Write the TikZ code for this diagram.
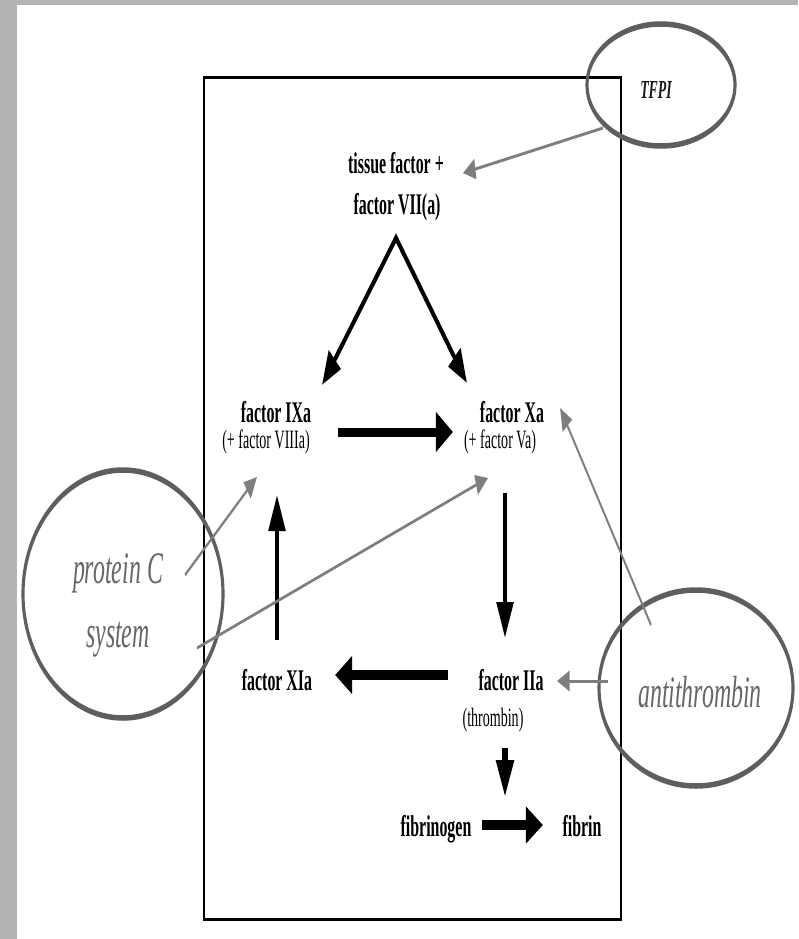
\documentclass[tikz,border=0pt]{standalone}
\usepackage{graphicx}
\usepackage{fontspec}
\setmainfont{Liberation Serif}
\usetikzlibrary{arrows.meta}
\definecolor{band}{HTML}{B4B4B4}
\definecolor{ringc}{HTML}{5E5E5E}
\definecolor{inhib}{HTML}{7E7E7E}
\definecolor{ringtext}{HTML}{666666}
\newcommand{\cnd}[1]{\scalebox{0.93}[1]{#1}}
\begin{document}
\begin{tikzpicture}[x=1pt,y=-1pt]
\useasboundingbox (0,0) rectangle (798,939);
\fill[white] (0,0) rectangle (798,939);
\fill[band] (0,0) rectangle (17,939);
\fill[band] (0,0) rectangle (798,5);
\begin{scope}[transform canvas={xscale=0.57}, x=1.75439pt, y=-1pt,
  lbl/.style={inner sep=0pt, anchor=base, font=\fontsize{30}{32}\selectfont\bfseries},
  sublbl/.style={inner sep=0pt, anchor=base, font=\fontsize{26.5}{28}\selectfont},
  ringtxt/.style={inner sep=0pt, anchor=base, text=ringtext, font=\fontsize{45}{47}\selectfont\itshape},
  ring/.style={draw=ringc, line width=5.5pt},
  arrv/.style={line width=7pt, -{Triangle[length=36pt,width=29pt]}},
  arrh/.style={line width=10pt, -{Triangle[length=30pt,width=36pt]}},
  arrd/.style={line width=6pt, line join=miter, {Triangle[length=34pt,width=27pt]}-{Triangle[length=34pt,width=27pt]}},
  inh/.style={draw=inhib, line width=3pt, -{Triangle[length=22pt,width=20pt]}}
]
% frame
\draw[line width=3pt] (204,78) rectangle (621,919);

% rings
\draw[ring] (661,85) ellipse [x radius=74, y radius=61];
\draw[ring] (123,594) ellipse [x radius=100, y radius=124];
\draw[ring] (696,688) ellipse [x radius=97, y radius=98];

% labels
\node[lbl] (tf1) at (396,173) {\cnd{tissue factor +}};
\node[lbl] (tf2) at (397,214) {\cnd{factor VII(a)}};
\node[lbl] (ixa) at (276,422) {\cnd{factor IXa}};
\node[sublbl] (ixasub) at (266,448) {\cnd{(+ factor VIIIa)}};
\node[lbl] (xa) at (512,422) {\cnd{factor Xa}};
\node[sublbl] (xasub) at (500,448) {\cnd{(+ factor Va)}};
\node[lbl] (xia) at (277,690) {\cnd{factor XIa}};
\node[lbl] (iia) at (511,690) {\cnd{factor IIa}};
\node[sublbl] (iiasub) at (493,726) {\cnd{(thrombin)}};
\node[lbl] (fibgen) at (436,836) {\cnd{fibrinogen}};
\node[lbl] (fib) at (582,836) {\cnd{fibrin}};

\node[inner sep=0pt, anchor=base, font=\fontsize{26}{28}\selectfont\bfseries\itshape, text=black!90] (tfpi) at (656,99) {\cnd{TFPI}};
\node[ringtxt] (pc1) at (118,583) {\cnd{protein C}};
\node[ringtxt] (pc2) at (118,647) {\cnd{system}};
\node[ringtxt] (at) at (700,707) {\cnd{antithrombin}};

% connector end points
\coordinate (apex) at (396,238);
\coordinate (ixaIn) at (322,385);
\coordinate (xaIn) at (467,383);
\coordinate (ixaOut) at (338,432);
\coordinate (xaFromIxa) at (453,432);
\coordinate (xaOut) at (505,493);
\coordinate (iiaIn) at (505,638);
\coordinate (xiaOut) at (277,640);
\coordinate (ixaFromXia) at (277,495);
\coordinate (iiaOut) at (448,675);
\coordinate (xiaIn) at (335,675);
\coordinate (iiaDown) at (505,748);
\coordinate (fibgenIn) at (505,797);
\coordinate (fibgenOut) at (482,825);
\coordinate (fibIn) at (543,825);

\coordinate (tfpiOut) at (603,128);
\coordinate (tfIn) at (463,173);
\coordinate (atOutA) at (608,681);
\coordinate (iiaInh) at (557,681);
\coordinate (atOutB) at (651,625);
\coordinate (xaInh) at (560,408);
\coordinate (pcOutA) at (185,575);
\coordinate (ixaInh) at (257,477);
\coordinate (pcOutB) at (197,648);
\coordinate (xaInh2) at (488,478);

% activation arrows
\draw[arrd] (ixaIn) -- (apex) -- (xaIn);
\draw[arrh, line width=9pt, -{Triangle[length=30pt,width=38pt]}] (ixaOut) -- (xaFromIxa);
\draw[arrv] (xaOut) -- (iiaIn);
\draw[arrv] (xiaOut) -- (ixaFromXia);
\draw[arrh] (iiaOut) -- (xiaIn);
\draw[arrv, line width=9pt, -{Triangle[length=37pt,width=30pt]}] (iiaDown) -- (fibgenIn);
\draw[arrh, -{Triangle[length=30pt,width=35pt]}] (fibgenOut) -- (fibIn);

% inhibitor arrows
\draw[inh] (tfpiOut) -- (tfIn);
\draw[inh] (atOutA) -- (iiaInh);
\draw[inh] (atOutB) -- (xaInh);
\draw[inh] (pcOutA) -- (ixaInh);
\draw[inh] (pcOutB) -- (xaInh2);
\end{scope}
\end{tikzpicture}
\end{document}
